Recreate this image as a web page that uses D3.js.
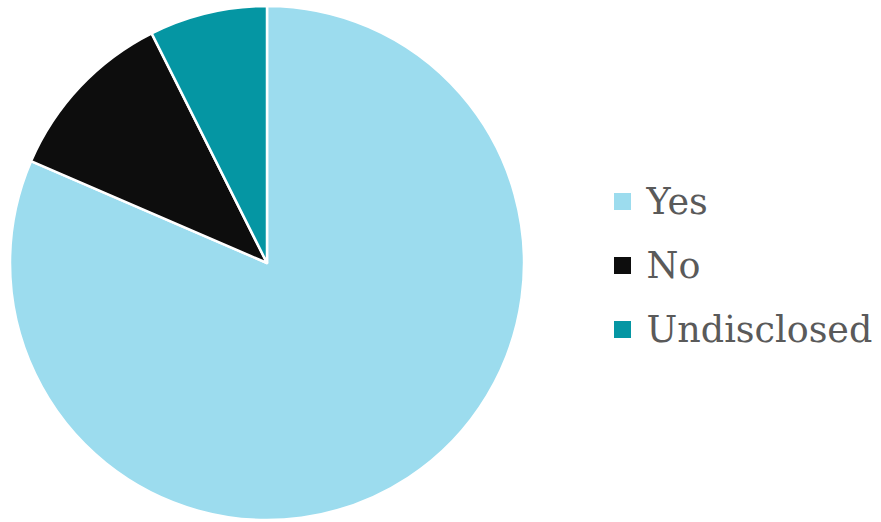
<!DOCTYPE html>
<html>
<head>
<meta charset="utf-8">
<script src="https://cdn.jsdelivr.net/npm/d3@7/dist/d3.min.js"></script>
<style>
  html, body { margin: 0; padding: 0; background: #fff; }
  svg { display: block; }
</style>
</head>
<body>
<svg id="chart" width="881" height="522"></svg>
<script>
// Survey answers (respondent counts)
const categories = ["Yes", "No", "Undisclosed"];
const values = [22, 3, 2];
const colors = ["#9cdcee", "#0d0d0d", "#0596a3"];

const svg = d3.select("#chart");
const cx = 267, cy = 263, radius = 257;

const color = d3.scaleOrdinal().domain(categories).range(colors);

const pie = d3.pie().sort(null).value(d => d.value);
const arc = d3.arc().innerRadius(0).outerRadius(radius);

const data = categories.map((c, i) => ({ name: c, value: values[i] }));

svg.append("g")
  .attr("transform", `translate(${cx},${cy})`)
  .selectAll("path")
  .data(pie(data))
  .join("path")
  .attr("d", arc)
  .attr("fill", d => color(d.data.name))
  .attr("stroke", "#fff")
  .attr("stroke-width", 2.5)
  .attr("stroke-linejoin", "round");

// Legend
const legend = svg.append("g").attr("transform", "translate(614,193)");
const row = legend.selectAll("g")
  .data(categories)
  .join("g")
  .attr("transform", (d, i) => `translate(0,${i * 64})`);

row.append("rect")
  .attr("width", 17)
  .attr("height", 17)
  .attr("fill", d => color(d));

row.append("text")
  .attr("x", 32.5)
  .attr("y", 21)
  .attr("font-family", "'DejaVu Serif', serif")
  .attr("font-size", 36.5)
  .attr("fill", "#5a5a5a")
  .text(d => d);
</script>
</body>
</html>
